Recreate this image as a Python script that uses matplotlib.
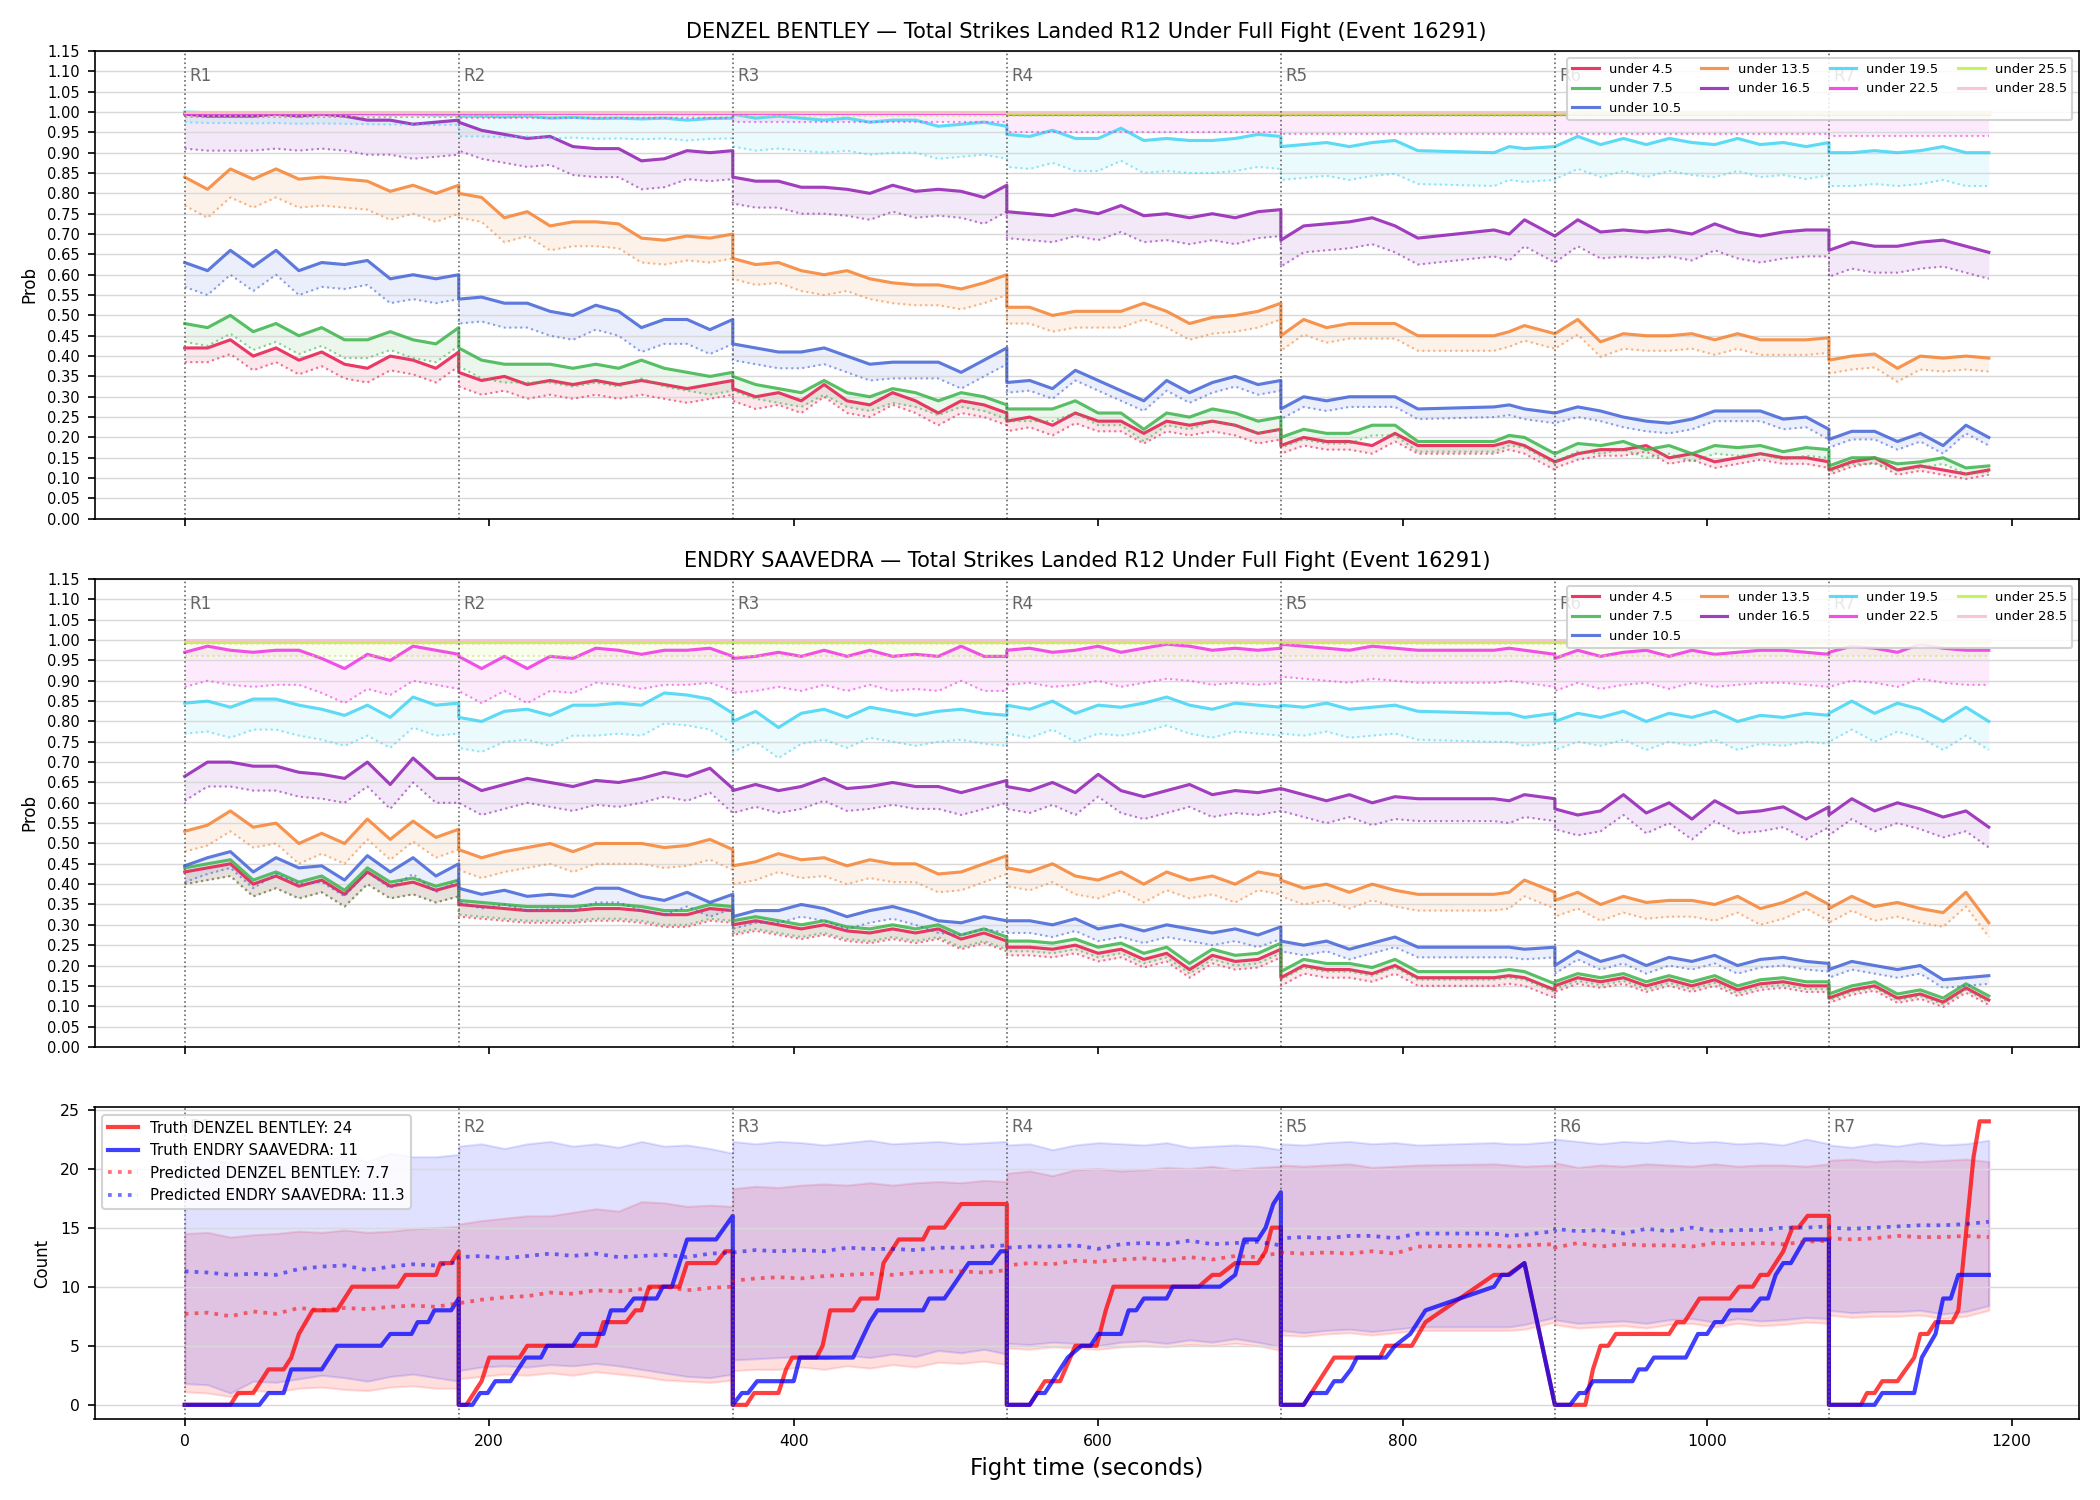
import numpy as np
import matplotlib.pyplot as plt

# sample times, one list per round (rounds share their boundary time)
round_times = [
    [0, 15, 30, 45, 60, 75, 90, 105, 120, 135, 150, 165, 180],
    [180, 195, 210, 225, 240, 255, 270, 285, 300, 315, 330, 345, 360],
    [360, 375, 390, 405, 420, 435, 450, 465, 480, 495, 510, 525, 540],
    [540, 555, 570, 585, 600, 615, 630, 645, 660, 675, 690, 705, 720],
    [720, 735, 750, 765, 780, 795, 810, 860, 870, 880, 900],
    [900, 915, 930, 945, 960, 975, 990, 1005, 1020, 1035, 1050, 1065, 1080],
    [1080, 1095, 1110, 1125, 1140, 1155, 1170, 1185],
]
round_starts = [0, 180, 360, 540, 720, 900, 1080]
round_names = ["R1", "R2", "R3", "R4", "R5", "R6", "R7"]

thresholds = ["under 4.5", "under 7.5", "under 10.5", "under 13.5", "under 16.5",
              "under 19.5", "under 22.5", "under 25.5", "under 28.5"]
colors = ["#e6194B", "#3cb44b", "#4363d8", "#f58231", "#911eb4",
          "#42d4f4", "#f032e6", "#bfef45", "#fabed4"]

# ---- DENZEL BENTLEY probabilities (per round) ----
den_u45 = [
    [.42, .42, .44, .40, .42, .39, .41, .38, .37, .40, .39, .37, .41],
    [.36, .34, .35, .33, .34, .33, .34, .33, .34, .33, .32, .33, .34],
    [.32, .30, .31, .29, .33, .29, .28, .31, .29, .26, .29, .28, .26],
    [.24, .25, .23, .26, .24, .24, .21, .24, .23, .24, .23, .21, .22],
    [.18, .20, .19, .19, .18, .21, .18, .18, .19, .18, .14],
    [.14, .16, .17, .17, .18, .15, .16, .14, .15, .16, .15, .15, .14],
    [.12, .14, .15, .12, .13, .12, .11, .12],
]
den_u75 = [
    [.48, .47, .50, .46, .48, .45, .47, .44, .44, .46, .44, .43, .47],
    [.42, .39, .38, .38, .38, .37, .38, .37, .39, .37, .36, .35, .36],
    [.35, .33, .32, .31, .34, .31, .30, .32, .31, .29, .31, .30, .28],
    [.27, .27, .27, .29, .26, .26, .22, .26, .25, .27, .26, .24, .25],
    [.20, .22, .21, .21, .23, .23, .19, .19, .205, .20, .16],
    [.16, .185, .18, .19, .17, .18, .16, .18, .175, .18, .165, .175, .17],
    [.13, .15, .15, .135, .14, .15, .125, .13],
]
den_u105 = [
    [.63, .61, .66, .62, .66, .61, .63, .625, .635, .59, .60, .59, .60],
    [.54, .545, .53, .53, .51, .50, .525, .51, .47, .49, .49, .465, .49],
    [.43, .42, .41, .41, .42, .40, .38, .385, .385, .385, .36, .39, .42],
    [.335, .34, .32, .365, .34, .315, .29, .34, .31, .335, .35, .33, .34],
    [.27, .30, .29, .30, .30, .30, .27, .275, .28, .27, .26],
    [.26, .275, .265, .25, .24, .235, .245, .265, .265, .265, .245, .25, .22],
    [.195, .215, .215, .19, .21, .18, .23, .20],
]
den_u135 = [
    [.84, .81, .86, .835, .86, .835, .84, .835, .83, .805, .82, .80, .82],
    [.80, .79, .74, .755, .72, .73, .73, .725, .69, .685, .695, .69, .70],
    [.64, .625, .63, .61, .60, .61, .59, .58, .575, .575, .565, .58, .60],
    [.52, .52, .50, .51, .51, .51, .53, .51, .48, .495, .50, .51, .53],
    [.45, .49, .47, .48, .48, .48, .45, .45, .46, .475, .455],
    [.455, .49, .435, .455, .45, .45, .455, .44, .455, .44, .44, .44, .445],
    [.39, .40, .405, .37, .40, .395, .40, .395],
]
den_u165 = [
    [.995, .99, .99, .99, .995, .99, .995, .99, .98, .98, .97, .975, .98],
    [.975, .955, .945, .935, .94, .915, .91, .91, .88, .885, .905, .90, .905],
    [.84, .83, .83, .815, .815, .81, .80, .82, .805, .81, .805, .79, .82],
    [.755, .75, .745, .76, .75, .77, .745, .75, .74, .75, .74, .755, .76],
    [.685, .72, .725, .73, .74, .72, .69, .71, .70, .735, .695],
    [.695, .735, .705, .71, .705, .71, .70, .725, .705, .695, .705, .71, .71],
    [.66, .68, .67, .67, .68, .685, .67, .655],
]
den_u195 = [
    [1.0, .998, .998, .997, .998, .996, .997, .996, .995, .994, .995, .993, .994],
    [.99, .99, .988, .99, .985, .987, .984, .985, .983, .985, .98, .984, .985],
    [.995, .985, .99, .985, .98, .985, .975, .98, .98, .965, .97, .975, .965],
    [.945, .94, .955, .935, .935, .96, .93, .935, .93, .93, .935, .945, .94],
    [.915, .92, .925, .915, .925, .93, .905, .90, .915, .91, .915],
    [.915, .94, .92, .935, .92, .935, .925, .92, .935, .92, .925, .915, .925],
    [.90, .90, .905, .90, .905, .915, .90, .90],
]
den_u225 = [
    [.998, .998, .998, .998, .998, .998, .998, .998, .998, .998, .998, .998, .998],
    [.997, .997, .997, .997, .997, .997, .997, .997, .997, .997, .997, .997, .997],
    [.997, .997, .997, .997, .997, .997, .997, .997, .997, .997, .997, .997, .997],
    [.996, .996, .996, .996, .996, .996, .996, .996, .996, .996, .996, .996, .996],
    [.996, .996, .996, .996, .996, .996, .996, .996, .996, .996, .996],
    [.996, .996, .996, .996, .996, .996, .996, .996, .996, .996, .996, .996, .996],
    [.996, .996, .996, .996, .996, .996, .996, .996],
]
den_u255 = [
    [.999, .999, .999, .999, .999, .999, .999, .999, .999, .999, .999, .999, .999],
    [.999, .999, .999, .999, .999, .999, .999, .999, .999, .999, .999, .999, .999],
    [.999, .999, .999, .999, .999, .999, .999, .999, .999, .999, .999, .999, .999],
    [.998, .998, .998, .998, .998, .998, .998, .998, .998, .998, .998, .998, .998],
    [.998, .998, .998, .998, .998, .998, .998, .998, .998, .998, .998],
    [.998, .998, .998, .998, .998, .998, .998, .998, .998, .998, .998, .998, .998],
    [.998, .998, .998, .998, .998, .998, .998, .998],
]
den_u285 = [
    [1.0, 1.0, 1.0, 1.0, 1.0, 1.0, 1.0, 1.0, 1.0, 1.0, 1.0, 1.0, 1.0],
    [1.0, 1.0, 1.0, 1.0, 1.0, 1.0, 1.0, 1.0, 1.0, 1.0, 1.0, 1.0, 1.0],
    [1.0, 1.0, 1.0, 1.0, 1.0, 1.0, 1.0, 1.0, 1.0, 1.0, 1.0, 1.0, 1.0],
    [1.0, 1.0, 1.0, 1.0, 1.0, 1.0, 1.0, 1.0, 1.0, 1.0, 1.0, 1.0, 1.0],
    [1.0, 1.0, 1.0, 1.0, 1.0, 1.0, 1.0, 1.0, 1.0, 1.0, 1.0],
    [1.0, 1.0, 1.0, 1.0, 1.0, 1.0, 1.0, 1.0, 1.0, 1.0, 1.0, 1.0, 1.0],
    [1.0, 1.0, 1.0, 1.0, 1.0, 1.0, 1.0, 1.0],
]
# distance from each line down to its dotted lower bound, per round
den_gaps = [
    [.035, .035, .03, .025, .02, .015, .012],
    [.045, .045, .035, .03, .025, .02, .015],
    [.06, .06, .04, .025, .025, .025, .02],
    [.07, .06, .05, .04, .037, .037, .033],
    [.085, .07, .065, .065, .065, .065, .065],
    [.025, .05, .08, .08, .082, .08, .082],
    [.01, .012, .022, .045, .05, .05, .055],
    [.008, .008, .008, .008, .008, .008, .008],
    [.002, .002, .002, .002, .002, .002, .002],
]

# ---- ENDRY SAAVEDRA probabilities (per round) ----
end_u45 = [
    [.43, .44, .45, .40, .42, .395, .41, .375, .43, .395, .405, .385, .40],
    [.35, .345, .34, .335, .335, .335, .34, .34, .335, .325, .325, .34, .335],
    [.30, .31, .30, .29, .30, .285, .28, .29, .28, .29, .265, .28, .26],
    [.245, .245, .24, .25, .23, .24, .215, .23, .19, .225, .21, .215, .24],
    [.17, .20, .19, .19, .18, .20, .17, .17, .175, .17, .14],
    [.15, .17, .16, .17, .15, .165, .15, .165, .14, .155, .16, .15, .15],
    [.12, .14, .15, .12, .13, .11, .145, .115],
]
end_u75 = [
    [.44, .45, .46, .41, .43, .405, .42, .385, .44, .405, .415, .395, .41],
    [.36, .355, .35, .345, .345, .345, .35, .35, .345, .335, .335, .35, .345],
    [.31, .32, .31, .30, .31, .295, .29, .30, .29, .30, .275, .29, .27],
    [.26, .26, .255, .265, .245, .255, .23, .245, .205, .24, .225, .23, .255],
    [.185, .215, .205, .205, .195, .215, .185, .185, .19, .185, .155],
    [.16, .18, .17, .18, .16, .175, .16, .175, .15, .165, .17, .16, .16],
    [.13, .15, .16, .13, .14, .12, .155, .125],
]
end_u105 = [
    [.445, .465, .48, .43, .465, .44, .445, .41, .47, .43, .465, .42, .45],
    [.39, .375, .385, .37, .375, .37, .39, .39, .37, .36, .38, .355, .375],
    [.32, .335, .335, .35, .34, .32, .335, .345, .33, .31, .305, .32, .31],
    [.31, .31, .30, .315, .29, .30, .285, .30, .29, .28, .29, .275, .295],
    [.26, .25, .26, .24, .255, .27, .245, .245, .245, .24, .245],
    [.20, .235, .21, .225, .20, .22, .21, .225, .20, .215, .22, .21, .205],
    [.19, .21, .20, .19, .20, .165, .17, .175],
]
end_u135 = [
    [.53, .545, .58, .54, .55, .50, .525, .50, .56, .51, .555, .515, .535],
    [.485, .465, .48, .49, .50, .48, .50, .50, .50, .49, .495, .51, .485],
    [.445, .455, .475, .46, .465, .445, .46, .45, .45, .425, .43, .45, .47],
    [.44, .43, .45, .42, .41, .43, .40, .43, .41, .42, .40, .43, .42],
    [.41, .39, .40, .38, .40, .385, .375, .375, .38, .41, .38],
    [.36, .38, .35, .37, .355, .36, .36, .35, .37, .34, .355, .38, .35],
    [.34, .37, .345, .355, .34, .33, .38, .305],
]
end_u165 = [
    [.665, .70, .70, .69, .69, .675, .67, .66, .70, .645, .71, .66, .66],
    [.66, .63, .645, .66, .65, .64, .655, .65, .66, .675, .665, .685, .635],
    [.63, .645, .63, .64, .66, .635, .64, .65, .64, .64, .625, .64, .655],
    [.64, .63, .65, .625, .67, .63, .615, .63, .645, .62, .63, .625, .635],
    [.635, .62, .605, .62, .60, .615, .61, .61, .605, .62, .61],
    [.585, .57, .58, .62, .575, .60, .56, .605, .575, .58, .59, .56, .59],
    [.57, .61, .58, .60, .585, .565, .58, .54],
]
end_u195 = [
    [.845, .85, .835, .855, .855, .84, .83, .815, .84, .81, .86, .84, .845],
    [.81, .80, .825, .83, .815, .84, .84, .845, .84, .87, .865, .855, .82],
    [.80, .825, .785, .82, .83, .81, .835, .825, .815, .825, .83, .82, .815],
    [.84, .83, .85, .82, .84, .835, .845, .86, .84, .83, .845, .84, .835],
    [.84, .835, .845, .83, .835, .84, .825, .82, .82, .81, .82],
    [.80, .82, .81, .825, .80, .82, .81, .825, .80, .815, .81, .82, .815],
    [.82, .85, .82, .845, .83, .80, .835, .80],
]
end_u225 = [
    [.97, .985, .975, .97, .975, .975, .955, .93, .965, .95, .985, .975, .965],
    [.96, .93, .96, .93, .96, .955, .98, .975, .965, .975, .975, .98, .96],
    [.955, .96, .97, .96, .975, .96, .975, .96, .965, .96, .985, .96, .96],
    [.975, .98, .97, .975, .985, .97, .98, .99, .985, .975, .98, .975, .98],
    [.99, .985, .98, .975, .985, .98, .975, .975, .98, .975, .965],
    [.955, .975, .96, .97, .975, .96, .975, .965, .97, .975, .975, .97, .965],
    [.97, .985, .98, .97, .99, .98, .975, .975],
]
end_u255 = [
    [.995, .995, .995, .995, .995, .995, .995, .995, .995, .995, .995, .995, .995],
    [.995, .995, .995, .995, .995, .995, .995, .995, .995, .995, .995, .995, .995],
    [.995, .995, .995, .995, .995, .995, .995, .995, .995, .995, .995, .995, .995],
    [.995, .995, .995, .995, .995, .995, .995, .995, .995, .995, .995, .995, .995],
    [.995, .995, .995, .995, .995, .995, .995, .995, .995, .995, .995],
    [.995, .995, .995, .995, .995, .995, .995, .995, .995, .995, .995, .995, .995],
    [.995, .995, .995, .995, .995, .995, .995, .995],
]
end_u285 = [
    [1.0, 1.0, 1.0, 1.0, 1.0, 1.0, 1.0, 1.0, 1.0, 1.0, 1.0, 1.0, 1.0],
    [1.0, 1.0, 1.0, 1.0, 1.0, 1.0, 1.0, 1.0, 1.0, 1.0, 1.0, 1.0, 1.0],
    [1.0, 1.0, 1.0, 1.0, 1.0, 1.0, 1.0, 1.0, 1.0, 1.0, 1.0, 1.0, 1.0],
    [1.0, 1.0, 1.0, 1.0, 1.0, 1.0, 1.0, 1.0, 1.0, 1.0, 1.0, 1.0, 1.0],
    [1.0, 1.0, 1.0, 1.0, 1.0, 1.0, 1.0, 1.0, 1.0, 1.0, 1.0],
    [1.0, 1.0, 1.0, 1.0, 1.0, 1.0, 1.0, 1.0, 1.0, 1.0, 1.0, 1.0, 1.0],
    [1.0, 1.0, 1.0, 1.0, 1.0, 1.0, 1.0, 1.0],
]
end_gaps = [
    [.03, .03, .025, .02, .02, .015, .012],
    [.04, .035, .03, .025, .02, .018, .015],
    [.04, .035, .03, .03, .025, .02, .02],
    [.05, .05, .045, .045, .04, .04, .035],
    [.06, .06, .055, .055, .055, .05, .05],
    [.075, .075, .075, .07, .07, .07, .07],
    [.085, .085, .085, .085, .08, .08, .085],
    [.035, .035, .035, .035, .035, .035, .035],
    [.01, .01, .01, .01, .01, .01, .01],
]

# ---- counts: truth (line vertices) ----
den_truth_t = [
    [0, 30, 35, 45, 55, 65, 70, 75, 84, 100, 110, 140, 145, 165, 168, 175, 180],
    [180, 185, 195, 200, 220, 225, 270, 275, 290, 296, 300, 305, 325, 330, 349, 355, 360],
    [360, 369, 374, 390, 395, 399, 415, 419, 424, 439, 444, 455, 459, 469, 485, 489, 499, 510, 540],
    [540, 555, 565, 575, 585, 599, 605, 610, 666, 675, 680, 690, 705, 710, 714, 720],
    [720, 735, 755, 785, 789, 806, 815, 860, 869, 880],
    [900, 920, 925, 930, 935, 940, 975, 980, 985, 995, 1015, 1021, 1030, 1035, 1040, 1050, 1056, 1060, 1066, 1080],
    [1080, 1101, 1105, 1110, 1115, 1125, 1136, 1140, 1145, 1150, 1161, 1165, 1175, 1179, 1185],
]
den_truth_c = [
    [0, 0, 1, 1, 3, 3, 4, 6, 8, 8, 10, 10, 11, 11, 12, 12, 13],
    [0, 0, 2, 4, 4, 5, 5, 7, 7, 8, 8, 10, 10, 12, 12, 13, 13],
    [0, 0, 1, 1, 3, 4, 4, 5, 8, 8, 9, 9, 12, 14, 14, 15, 15, 17, 17],
    [0, 0, 2, 2, 5, 5, 8, 10, 10, 11, 11, 12, 12, 13, 15, 15],
    [0, 0, 4, 4, 5, 5, 7, 11, 11, 12],
    [0, 0, 3, 5, 5, 6, 6, 7, 7, 9, 9, 10, 10, 11, 11, 13, 15, 15, 16, 16],
    [0, 0, 1, 1, 2, 2, 4, 6, 6, 7, 7, 8, 21, 24, 24],
]
end_truth_t = [
    [0, 49, 55, 65, 70, 90, 100, 129, 135, 149, 153, 160, 164, 175, 180],
    [180, 189, 194, 199, 204, 214, 224, 234, 238, 255, 260, 275, 280, 289, 295, 310, 314, 320, 330, 349, 360],
    [360, 366, 370, 376, 400, 404, 439, 450, 455, 485, 489, 499, 515, 530, 536, 540],
    [540, 555, 560, 565, 580, 589, 595, 600, 615, 620, 625, 630, 645, 649, 680, 690, 696, 705, 710, 715, 720],
    [720, 735, 740, 750, 755, 760, 766, 770, 789, 795, 805, 815, 860, 865, 870, 880],
    [900, 910, 916, 920, 925, 951, 955, 960, 965, 986, 994, 1000, 1005, 1010, 1015, 1029, 1035, 1040, 1045, 1050, 1055, 1064, 1080],
    [1080, 1110, 1115, 1136, 1141, 1150, 1155, 1160, 1165, 1185],
]
end_truth_c = [
    [0, 0, 1, 1, 3, 3, 5, 5, 6, 6, 7, 7, 8, 8, 9],
    [0, 0, 1, 1, 2, 2, 4, 4, 5, 5, 6, 6, 8, 8, 9, 9, 10, 10, 14, 14, 16],
    [0, 1, 1, 2, 2, 4, 4, 7, 8, 8, 9, 9, 12, 12, 13, 13],
    [0, 0, 1, 1, 4, 5, 5, 6, 6, 8, 8, 9, 9, 10, 10, 11, 14, 14, 15, 17, 18],
    [0, 0, 1, 1, 2, 2, 3, 4, 4, 5, 6, 8, 10, 11, 11, 12],
    [0, 0, 1, 1, 2, 2, 3, 3, 4, 4, 6, 6, 7, 7, 8, 8, 9, 9, 11, 12, 12, 14, 14],
    [0, 0, 1, 1, 4, 6, 9, 9, 11, 11],
]

# ---- counts: predicted mean and band (on the sample times) ----
den_pred = [
    [7.7, 7.8, 7.5, 7.9, 7.7, 8.2, 8.0, 8.2, 8.1, 8.3, 8.4, 8.3, 8.6],
    [8.6, 8.9, 9.1, 9.2, 9.5, 9.4, 9.7, 9.6, 9.8, 10.0, 9.7, 9.9, 10.0],
    [10.5, 10.7, 10.8, 10.7, 10.9, 11.0, 11.1, 11.0, 11.2, 11.3, 11.3, 11.2, 11.4],
    [11.8, 12.0, 11.9, 12.2, 12.1, 12.3, 12.4, 12.2, 12.5, 12.3, 12.6, 12.5, 12.9],
    [12.9, 12.8, 12.9, 12.8, 13.0, 12.8, 13.4, 13.5, 13.4, 13.5, 13.6],
    [13.3, 13.7, 13.4, 13.6, 13.5, 13.5, 13.4, 13.7, 13.6, 13.7, 13.6, 13.8, 13.9],
    [14.1, 14.0, 14.1, 14.3, 14.2, 14.2, 14.3, 14.2],
]
end_pred = [
    [11.3, 11.2, 11.0, 11.1, 11.0, 11.5, 11.7, 11.8, 11.4, 11.7, 11.9, 11.8, 12.1],
    [12.5, 12.6, 12.4, 12.6, 12.8, 12.6, 12.8, 12.5, 12.6, 12.7, 12.5, 12.8, 12.9],
    [12.9, 13.1, 13.0, 13.1, 13.0, 13.3, 13.2, 13.2, 13.1, 13.3, 13.3, 13.4, 13.5],
    [13.3, 13.4, 13.4, 13.5, 13.2, 13.6, 13.7, 13.6, 13.9, 13.6, 13.7, 13.8, 13.5],
    [14.1, 14.2, 14.1, 14.3, 14.3, 14.1, 14.5, 14.5, 14.3, 14.4, 14.7],
    [14.9, 14.7, 14.8, 14.5, 14.9, 14.7, 15.0, 14.7, 14.8, 14.8, 15.0, 15.0, 15.1],
    [15.0, 14.9, 15.0, 15.1, 15.2, 15.2, 15.3, 15.5],
]
den_hi = [
    [14.5, 14.6, 14.2, 14.4, 14.5, 14.7, 14.6, 14.8, 14.6, 14.7, 14.9, 15.0, 15.1],
    [15.3, 15.6, 15.8, 16.0, 16.0, 16.3, 16.6, 16.4, 17.2, 17.1, 16.8, 16.9, 16.8],
    [18.3, 18.5, 18.4, 18.6, 18.7, 18.6, 18.8, 18.6, 18.8, 18.9, 18.8, 19.0, 18.9],
    [19.6, 19.8, 19.4, 19.9, 20.0, 19.8, 19.9, 20.1, 20.0, 20.2, 19.9, 20.1, 20.2],
    [20.3, 20.2, 20.3, 20.4, 20.1, 20.2, 20.3, 20.4, 20.3, 20.2, 20.3],
    [20.5, 20.1, 20.3, 20.2, 20.4, 20.3, 20.2, 20.4, 20.2, 20.3, 20.3, 20.2, 20.4],
    [20.7, 20.8, 20.6, 20.7, 20.6, 20.7, 20.8, 20.6],
]
den_lo = [
    [1.1, 1.0, 0.7, 1.2, 1.1, 1.4, 1.5, 1.3, 1.2, 1.5, 1.6, 1.4, 1.4],
    [2.2, 2.4, 2.6, 2.5, 2.7, 2.5, 2.8, 2.6, 2.4, 2.1, 2.0, 1.9, 2.1],
    [2.9, 3.0, 3.0, 3.2, 3.0, 3.3, 3.1, 3.4, 3.2, 3.6, 3.5, 3.7, 3.4],
    [4.8, 4.7, 4.9, 4.8, 4.7, 4.9, 5.0, 4.9, 5.1, 5.0, 5.2, 5.0, 4.6],
    [5.9, 5.8, 6.0, 6.1, 5.9, 6.1, 6.3, 6.3, 6.3, 6.4, 7.0],
    [6.8, 6.5, 6.6, 6.7, 6.5, 6.8, 6.9, 6.6, 6.9, 6.7, 6.8, 7.0, 6.9],
    [7.6, 7.4, 7.5, 7.5, 7.6, 7.3, 7.5, 8.0],
]
end_hi = [
    [21.0, 20.8, 20.5, 20.7, 20.9, 21.0, 20.7, 21.1, 20.6, 21.3, 21.0, 21.0, 21.2],
    [21.9, 22.1, 21.7, 22.1, 22.3, 21.9, 22.1, 21.8, 22.3, 21.9, 22.0, 21.7, 21.3],
    [22.3, 22.1, 22.3, 22.2, 22.0, 22.2, 22.4, 22.1, 22.2, 22.3, 22.1, 22.2, 22.3],
    [22.0, 22.1, 21.6, 22.0, 22.2, 22.1, 22.0, 22.2, 21.8, 21.9, 22.0, 21.9, 21.6],
    [22.1, 22.0, 22.2, 22.3, 22.1, 22.2, 22.0, 22.2, 22.1, 22.1, 22.3],
    [22.5, 22.3, 22.1, 22.3, 22.2, 22.4, 22.2, 22.3, 22.1, 22.2, 22.0, 22.5, 22.1],
    [22.0, 21.8, 22.1, 21.9, 22.2, 22.0, 22.1, 22.4],
]
end_lo = [
    [1.8, 1.7, 1.0, 2.0, 1.9, 2.2, 2.5, 2.3, 2.0, 2.4, 2.6, 2.3, 2.0],
    [2.9, 3.2, 3.3, 3.2, 3.4, 3.3, 3.5, 3.3, 3.0, 2.7, 2.4, 2.3, 2.6],
    [3.8, 3.9, 4.0, 4.1, 3.9, 4.2, 4.0, 4.3, 4.1, 4.6, 4.4, 4.7, 4.3],
    [5.2, 5.1, 5.3, 5.2, 5.0, 5.3, 5.4, 5.2, 5.5, 5.3, 5.6, 5.3, 4.9],
    [6.3, 6.1, 6.3, 6.4, 6.2, 6.4, 6.6, 6.6, 6.6, 6.8, 7.4],
    [7.2, 6.9, 7.0, 7.1, 6.9, 7.2, 7.3, 7.0, 7.3, 7.1, 7.2, 7.4, 7.3],
    [8.0, 7.8, 7.9, 7.9, 8.0, 7.7, 7.9, 8.4],
]

t = np.concatenate(round_times)


def flat(series):
    return np.concatenate([np.array(r, dtype=float) for r in series])


def lower(series, gaps):
    return np.concatenate([np.array(r, dtype=float) - g for r, g in zip(series, gaps)])


def mark_rounds(ax):
    for rs, name in zip(round_starts, round_names):
        ax.axvline(rs, color="0.35", linestyle=":", linewidth=0.8, alpha=0.9)
        ax.text(rs + 3, 0.965, name, transform=ax.get_xaxis_transform(),
                color="0.4", fontsize=8, va="top", ha="left")


def prob_panel(ax, series_list, gaps, title):
    handles = []
    for s, g, lab, col in zip(series_list, gaps, thresholds, colors):
        hi = flat(s)
        lo = lower(s, g)
        ax.fill_between(t, lo, hi, color=col, alpha=0.1, linewidth=0)
        line, = ax.plot(t, hi, color=col, linewidth=1.5, alpha=0.85, label=lab)
        ax.plot(t, lo, color=col, linewidth=1.0, linestyle=":", alpha=0.6)
        handles.append(line)
    mark_rounds(ax)
    ax.set_ylim(0, 1.15)
    ax.set_yticks(np.arange(0, 1.151, 0.05))
    ax.yaxis.set_major_formatter(plt.FormatStrFormatter("%.2f"))
    ax.set_ylabel("Prob", fontsize=8)
    ax.set_title(title, fontsize=10)
    ax.grid(axis="y", color="0.85", linewidth=0.7)
    ax.tick_params(labelsize=7)
    ax.tick_params(axis="x", labelbottom=False)
    ax.legend(handles=handles, loc="upper right", ncol=4, fontsize=6.3,
              framealpha=0.85, columnspacing=1.5)


fig, axes = plt.subplots(3, 1, figsize=(14, 10), sharex=True,
                         gridspec_kw={"height_ratios": [3, 3, 2]})
fig.subplots_adjust(left=0.045, right=0.99, top=0.966, bottom=0.054, hspace=0.145)

prob_panel(axes[0], [den_u45, den_u75, den_u105, den_u135, den_u165,
                     den_u195, den_u225, den_u255, den_u285], den_gaps,
           "DENZEL BENTLEY \u2014 Total Strikes Landed R12 Under Full Fight (Event 16291)")
prob_panel(axes[1], [end_u45, end_u75, end_u105, end_u135, end_u165,
                     end_u195, end_u225, end_u255, end_u285], end_gaps,
           "ENDRY SAAVEDRA \u2014 Total Strikes Landed R12 Under Full Fight (Event 16291)")

ax = axes[2]
ax.fill_between(t, flat(den_lo), flat(den_hi), color="red", alpha=0.13)
ax.fill_between(t, flat(end_lo), flat(end_hi), color="blue", alpha=0.12)
ax.plot(np.concatenate(den_truth_t), np.concatenate(den_truth_c), color="red",
        linewidth=2, alpha=0.75, label="Truth DENZEL BENTLEY: 24")
ax.plot(np.concatenate(end_truth_t), np.concatenate(end_truth_c), color="blue",
        linewidth=2, alpha=0.75, label="Truth ENDRY SAAVEDRA: 11")
ax.plot(t, flat(den_pred), color="red", linestyle=":", linewidth=1.8, alpha=0.55,
        label="Predicted DENZEL BENTLEY: 7.7")
ax.plot(t, flat(end_pred), color="blue", linestyle=":", linewidth=1.8, alpha=0.55,
        label="Predicted ENDRY SAAVEDRA: 11.3")
mark_rounds(ax)
ax.set_ylabel("Count", fontsize=8)
ax.set_xlabel("Fight time (seconds)", fontsize=11)
ax.grid(axis="y", color="0.85", linewidth=0.7)
ax.tick_params(labelsize=7.5)
ax.legend(loc="upper left", fontsize=7.2, framealpha=0.85)

fig.savefig("out.png", dpi=150)
